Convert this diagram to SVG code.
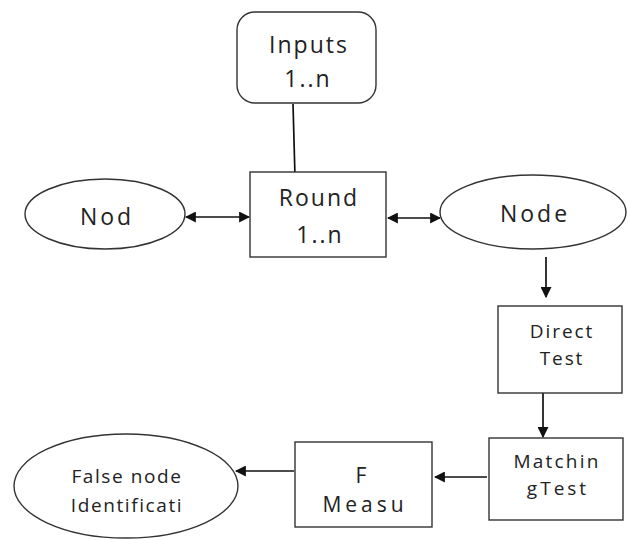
<svg xmlns="http://www.w3.org/2000/svg" width="628" height="540" viewBox="0 0 628 540">
  <style>
    .shape { fill: #ffffff; stroke: #333333; stroke-width: 1.4; }
    .lbl { font-family: "Open Sans", "DejaVu Sans", sans-serif; fill: #222222; text-anchor: middle; }
    .big { font-size: 23px; letter-spacing: 2px; }
    .mid { font-size: 19px; letter-spacing: 1.9px; }
    .conn { stroke: #111111; stroke-width: 1.7; fill: none; }
  </style>
  <defs>
    <marker id="arrow" viewBox="0 0 10 10" refX="9" refY="5" markerWidth="11" markerHeight="11" markerUnits="userSpaceOnUse" orient="auto-start-reverse">
      <path d="M0,0 L10,5 L0,10 Z" fill="#111111"/>
    </marker>
  </defs>
  <rect width="628" height="540" fill="#ffffff"/>

  <g id="connectors">
    <line class="conn" x1="293" y1="104" x2="295" y2="177"/>
    <line class="conn" x1="186" y1="217" x2="249" y2="217" marker-start="url(#arrow)" marker-end="url(#arrow)"/>
    <line class="conn" x1="388" y1="218" x2="440" y2="218" marker-start="url(#arrow)" marker-end="url(#arrow)"/>
    <line class="conn" x1="546" y1="257" x2="546" y2="297" marker-end="url(#arrow)"/>
    <line class="conn" x1="543" y1="388" x2="543" y2="437" marker-end="url(#arrow)"/>
    <line class="conn" x1="487" y1="477" x2="435" y2="477" marker-end="url(#arrow)"/>
    <line class="conn" x1="294" y1="471" x2="236" y2="471" marker-end="url(#arrow)"/>
  </g>

  <g id="inputs">
    <rect class="shape" x="237" y="12" width="139" height="91" rx="18"/>
    <text class="lbl big" x="309" y="53">Inputs</text>
    <text class="lbl big" x="308" y="87">1..n</text>
  </g>

  <g id="round">
    <rect class="shape" x="250" y="172" width="136" height="85"/>
    <text class="lbl big" x="319" y="206">Round</text>
    <text class="lbl big" x="320" y="243">1..n</text>
  </g>

  <g id="nod">
    <ellipse class="shape" cx="105" cy="214" rx="80" ry="35"/>
    <text class="lbl big" x="107" y="225" style="letter-spacing:3px">Nod</text>
  </g>

  <g id="node">
    <ellipse class="shape" cx="533" cy="212" rx="93" ry="37"/>
    <text class="lbl big" x="535" y="222" style="letter-spacing:3px">Node</text>
  </g>

  <g id="direct-test">
    <rect class="shape" x="498" y="306" width="124" height="87"/>
    <text class="lbl mid" x="562" y="338">Direct</text>
    <text class="lbl mid" x="562" y="365">Test</text>
  </g>

  <g id="matching-test">
    <rect class="shape" x="489" y="438" width="134" height="82"/>
    <text class="lbl mid" x="557" y="468" style="letter-spacing:2.2px">Matchin</text>
    <text class="lbl mid" x="558" y="495" style="letter-spacing:3px">gTest</text>
  </g>

  <g id="f-measure">
    <rect class="shape" x="295" y="442" width="137" height="85"/>
    <text class="lbl" x="361" y="483" style="font-size:21px">F</text>
    <text class="lbl" x="365" y="512" style="font-size:21px;letter-spacing:4px">Measu</text>
  </g>

  <g id="false-node">
    <ellipse class="shape" cx="126" cy="486" rx="112" ry="52"/>
    <text class="lbl mid" x="127" y="483" style="letter-spacing:1.6px">False node</text>
    <text class="lbl mid" x="127" y="512" style="letter-spacing:1.6px">Identificati</text>
  </g>
</svg>
